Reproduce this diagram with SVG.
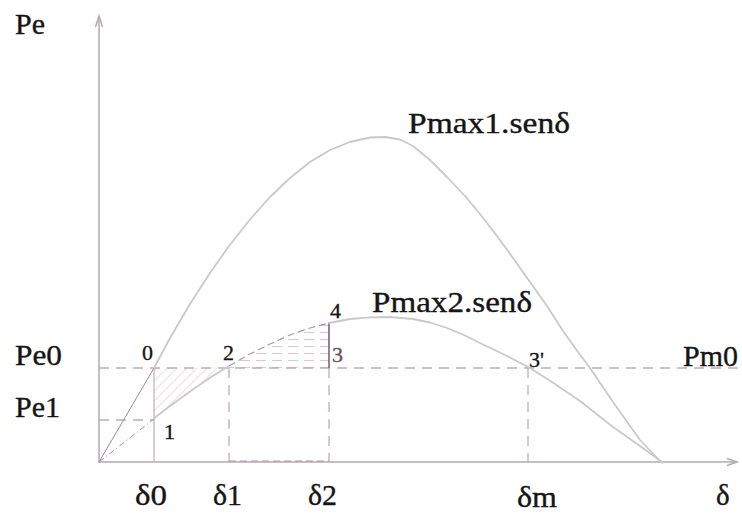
<svg xmlns="http://www.w3.org/2000/svg" width="742" height="516" viewBox="0 0 742 516">
<style>
  text { font-family: "Liberation Serif", "Times New Roman", serif; fill: #161415; stroke: #161415; stroke-width: 0.35; }
  .lbl { font-size: 29px; }
  .num { font-size: 22px; }
  .axis { stroke: #b4a9ae; stroke-width: 1.5; fill: none; }
  .curve { stroke: #cbc8c9; stroke-width: 1.8; fill: none; stroke-linejoin: round; stroke-linecap: round; }
  .dash { stroke: #c4a9b7; stroke-width: 1.3; fill: none; stroke-dasharray: 10 7; }
  .dashp { stroke: #b890a6; stroke-width: 1.2; fill: none; stroke-dasharray: 7 4; }
</style>
<defs>
  <pattern id="diag" patternUnits="userSpaceOnUse" width="7" height="7" patternTransform="rotate(45)">
    <line x1="0" y1="0" x2="0" y2="7" stroke="#e7cdd6" stroke-width="1.4"/>
  </pattern>
  <pattern id="horiz" patternUnits="userSpaceOnUse" width="16" height="7">
    <line x1="0" y1="3.5" x2="10" y2="3.5" stroke="#dcc8d0" stroke-width="1.2"/>
  </pattern>
</defs>
<rect width="742" height="516" fill="#ffffff"/>

<!-- shaded areas -->
<g id="areas">
  <path d="M154,368 L229,368 L229,366 L210,377.8 L190,391.5 L170,406 L154,418.2 Z" fill="url(#diag)"/>
  <path d="M229,368 L229,366 L250,354 L270,344 L290,335 L310,328 L329,323 L329,368 Z" fill="url(#horiz)"/>
</g>

<!-- axes -->
<g id="axes">
  <line class="axis" x1="99" y1="463" x2="99" y2="16"/>
  <path class="axis" d="M95.5,27 L99,16 L102.5,27"/>
  <line class="axis" x1="99" y1="462" x2="737" y2="462"/>
  <path class="axis" d="M727,458.5 L737,462 L727,465.5"/>
</g>

<!-- guide lines -->
<g id="guides">
  <line class="dash" x1="99" y1="368" x2="742" y2="368"/>
  <line class="dash" x1="99" y1="420" x2="154" y2="420"/>
  <line x1="154" y1="368" x2="154" y2="462" stroke="#c9c0c4" stroke-width="1.5"/>
  <line class="dash" x1="229" y1="368" x2="229" y2="462"/>
  <line class="dash" x1="329" y1="368" x2="329" y2="462"/>
  <line class="dash" x1="528" y1="368" x2="528" y2="462"/>
  <line class="dashp" x1="229" y1="461" x2="329" y2="461"/>
  <line x1="329" y1="322" x2="329" y2="368" stroke="#7d6474" stroke-width="1.6"/>
</g>

<!-- curves -->
<g id="connectors">
  <line x1="99" y1="462" x2="154" y2="368" stroke="#a98399" stroke-width="1"/>
  <line x1="99" y1="462" x2="154" y2="419" stroke="#b18ea2" stroke-width="1" stroke-dasharray="6 3 1 3"/>
  <polyline class="curve" points="154,368 170,338 190,304 210,273 229,246 250,219.5 270,197 290,178 310,162 330,150 350,142 370,137.5 385,137 400,139.5 413,146 430,160 447,177 465,196 480,214 497,236 513,258 530,282 547,306 563,331 578,352 590,368 613,402 640,440 662,463"/>
  <polyline class="curve" points="154,418.2 170,406 190,391.5 210,377.8 229,366"/>
  <polyline class="dashp" points="229,366 250,354 270,344 290,335 310,328 329,323"/>
  <polyline class="curve" points="329,323 350,319 370,317.3 390,317 413,319 430,322.5 447,328 465,335.5 480,343 505,355 530,368 555,384 580,401 613,427 640,446 662,462"/>
</g>

<!-- labels -->
<g id="labels">
  <text class="lbl" x="15" y="34" textLength="30" lengthAdjust="spacingAndGlyphs">Pe</text>
  <text class="lbl" x="15" y="365" textLength="47" lengthAdjust="spacingAndGlyphs">Pe0</text>
  <text class="lbl" x="15" y="417" textLength="45" lengthAdjust="spacingAndGlyphs">Pe1</text>
  <text class="lbl" x="408" y="133" textLength="162" lengthAdjust="spacingAndGlyphs">Pmax1.senδ</text>
  <text class="lbl" x="372" y="312" textLength="160" lengthAdjust="spacingAndGlyphs">Pmax2.senδ</text>
  <text class="lbl" x="683" y="366" textLength="55" lengthAdjust="spacingAndGlyphs">Pm0</text>
  <text class="num" x="142" y="360">0</text>
  <text class="num" x="164" y="439">1</text>
  <text class="num" x="223" y="360">2</text>
  <text class="num" x="332" y="362" style="fill:#6b4f5f;stroke:#6b4f5f">3</text>
  <text class="num" x="330" y="318">4</text>
  <text class="num" x="529" y="367">3'</text>
  <text class="lbl" x="135" y="505" textLength="32" lengthAdjust="spacingAndGlyphs">δ0</text>
  <text class="lbl" x="213" y="505" textLength="29" lengthAdjust="spacingAndGlyphs">δ1</text>
  <text class="lbl" x="308" y="505" textLength="29" lengthAdjust="spacingAndGlyphs">δ2</text>
  <text class="lbl" x="517" y="507" textLength="40" lengthAdjust="spacingAndGlyphs">δm</text>
  <text class="lbl" x="716" y="505">δ</text>
</g>
</svg>
